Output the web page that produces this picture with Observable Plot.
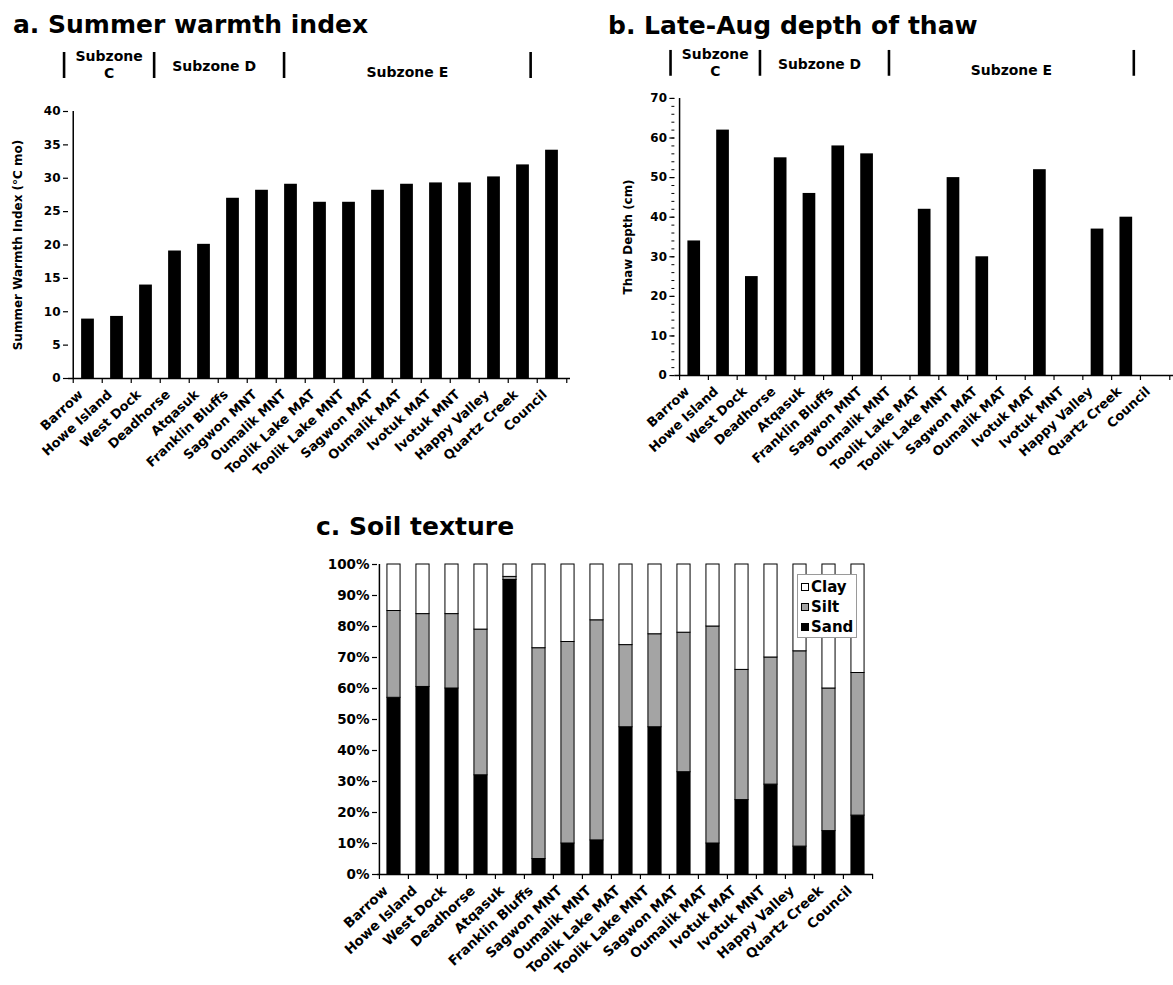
<!DOCTYPE html>
<html>
<head>
<meta charset="utf-8">
<script src="https://cdn.jsdelivr.net/npm/d3@7"></script>
<script src="https://cdn.jsdelivr.net/npm/@observablehq/plot@0.6"></script>
<style>
  html, body { margin: 0; padding: 0; background: #fff; overflow: hidden; }
  #fig { position: relative; width: 1173px; height: 985px; font-family: "DejaVu Sans", sans-serif; font-weight: bold; color: #000; }
  .panel { position: absolute; }
  .title { position: absolute; font-size: 25px; line-height: 25px; white-space: nowrap; }
  .legend { position: absolute; background: #fff; border: 1px solid #9a9a9a; box-sizing: border-box; padding: 2px 0 0 3px; }
  .legend .row { display: flex; align-items: center; height: 20px; font-size: 15px; }
  .legend .sw { width: 6px; height: 6px; border: 1px solid #000; margin-right: 2px; }
</style>
</head>
<body>
<div id="fig"></div>
<script>
// Sites along the Arctic transect, south-to-north zones C, D, E
const sites = ["Barrow", "Howe Island", "West Dock", "Deadhorse", "Atqasuk", "Franklin Bluffs",
  "Sagwon MNT", "Oumalik MNT", "Toolik Lake MAT", "Toolik Lake MNT", "Sagwon MAT", "Oumalik MAT",
  "Ivotuk MAT", "Ivotuk MNT", "Happy Valley", "Quartz Creek", "Council"];

// a. Summer warmth index (°C mo)
const warmth = [8.9, 9.3, 14.0, 19.1, 20.1, 27.0, 28.2, 29.1, 26.4, 26.4, 28.2, 29.1, 29.3, 29.3, 30.2, 32.0, 34.2];
// b. Late-August thaw depth (cm); null where not measured
const thaw = [34, 62, 25, 55, 46, 58, 56, null, 42, 50, 30, null, 52, null, 37, 40, null];
// c. Soil texture (% of sample)
const sand = [57, 60.5, 60, 32, 95, 5, 10, 11, 47.5, 47.5, 33, 10, 24, 29, 9, 14, 19];
const silt = [28, 23.5, 24, 47, 1, 68, 65, 71, 26.5, 30, 45, 70, 42, 41, 63, 46, 46];
const clay = [15, 16, 16, 21, 4, 27, 25, 18, 26, 22.5, 22, 20, 34, 30, 28, 40, 35];
const soilClasses = ["Clay", "Silt", "Sand"];
const soilColors = ["#ffffff", "#a4a4a4", "#000000"];

// Bioclimate subzones and their boundaries along the site axis (in site units)
const subzoneNames = ["Subzone\nC", "Subzone D", "Subzone E"];
const subzoneEdges = [-0.15, 2.9, 7.3, 15.65];

const warmthTicks = d3.range(0, 41, 5);
const thawTicks = d3.range(0, 71, 10);
const thawMinorTicks = d3.range(0, 71, 2);
const pctTicks = d3.range(0, 101, 10);

const FONT = '"DejaVu Sans", sans-serif';
const fig = document.getElementById("fig");

function place(el, left, top) {
  const d = document.createElement("div");
  d.className = "panel";
  d.style.left = left + "px";
  d.style.top = top + "px";
  d.append(el);
  fig.append(d);
  return d;
}

function title(text, left, top) {
  const t = document.createElement("div");
  t.className = "title";
  t.style.left = left + "px";
  t.style.top = top + "px";
  t.textContent = text;
  fig.append(t);
}

const BAR_W = 13.3;

// Subzone strip drawn over the same horizontal extent as the bar chart below it
function subzoneStrip({left, top, marginLeft, plotWidth, marginRight}) {
  const mids = subzoneNames.map((n, i) => ({name: n, x: (subzoneEdges[i] + subzoneEdges[i + 1]) / 2, i}));
  const shiftY = [-1, 0, 6];
  const shiftX = [0, -5, 0];
  const svg = Plot.plot({
    width: marginLeft + plotWidth + marginRight,
    height: 40,
    marginLeft, marginRight, marginTop: 7, marginBottom: 7,
    x: {type: "linear", domain: [0, sites.length], axis: null},
    y: {axis: null},
    style: {fontFamily: FONT, fontWeight: "bold", overflow: "visible", background: "transparent"},
    marks: [
      Plot.ruleX(subzoneEdges, {stroke: "black", strokeWidth: 2.6}),
      ...mids.map(m => Plot.text([m], {x: "x", text: "name", frameAnchor: "middle", dx: shiftX[m.i], dy: shiftY[m.i], fontSize: 14, lineHeight: 1.2, fill: "black"}))
    ]
  });
  place(svg, left, top);
}

function barPanel({values, ticks, minor, yMax, left, top, marginLeft, plotWidth, marginRight, marginTop, plotHeight, marginBottom, ylabel, labelDx}) {
  const step = plotWidth / sites.length;
  const inset = (step - BAR_W) / 2;
  const rows = sites.map((s, i) => ({site: s, v: values[i]})).filter(d => d.v != null);
  const tickUnits = 5 * yMax / plotHeight;
  const marks = [
    Plot.barY(rows, {x: "site", y: "v", fill: "black", insetLeft: inset, insetRight: inset}),
    Plot.ruleY([0], {stroke: "black", strokeWidth: 1.5}),
    Plot.ruleX([sites[0]], {dx: -step / 2, y1: 0, y2: yMax, stroke: "black", strokeWidth: 1.5}),
    Plot.ruleX(sites, {x: d => d, dx: -step / 2, y1: 0, y2: -tickUnits, stroke: "black", strokeWidth: 1.2}),
    Plot.ruleX([sites[sites.length - 1]], {dx: step / 2, y1: 0, y2: -tickUnits, stroke: "black", strokeWidth: 1.2}),
  ];
  if (minor) marks.push(Plot.axisY({ticks: minor, tickSize: 3, tickFormat: () => "", label: null, strokeWidth: 1}));
  marks.push(
    Plot.axisY({ticks, tickSize: 5, tickPadding: 3, fontSize: 12, fontWeight: "bold", label: null, strokeWidth: 1.2}),
    Plot.axisX({tickSize: 0, tickRotate: -43, tickPadding: 14, dx: -7, fontSize: 13, fontWeight: "bold", label: null}),
    Plot.text([ylabel], {frameAnchor: "left", textAnchor: "middle", rotate: -90, dx: labelDx, fontSize: 12, fontWeight: "bold", fill: "black"})
  );
  const svg = Plot.plot({
    width: marginLeft + plotWidth + marginRight,
    height: marginTop + plotHeight + marginBottom,
    marginLeft, marginRight, marginTop, marginBottom,
    x: {type: "band", domain: sites, padding: 0, axis: null},
    y: {domain: [0, yMax], axis: null},
    style: {fontFamily: FONT, fontWeight: "bold", overflow: "visible", background: "transparent", color: "black"},
    marks
  });
  place(svg, left, top);
}

// a. Summer warmth index
title("a. Summer warmth index", 13, 12);
subzoneStrip({left: 0, top: 45, marginLeft: 68, plotWidth: 502, marginRight: 10});
barPanel({
  values: warmth, ticks: warmthTicks, yMax: 40,
  left: 0, top: 100, marginLeft: 68, plotWidth: 502, marginRight: 10,
  marginTop: 11, plotHeight: 267, marginBottom: 110,
  ylabel: "Summer Warmth Index (°C mo)", labelDx: -50
});

// b. Late-Aug depth of thaw
title("b. Late-Aug depth of thaw", 608, 13);
subzoneStrip({left: 580, top: 43, marginLeft: 95, plotWidth: 502, marginRight: 0});
barPanel({
  values: thaw, ticks: thawTicks, minor: thawMinorTicks, yMax: 70,
  left: 580, top: 88, marginLeft: 95, plotWidth: 502, marginRight: 0,
  marginTop: 10, plotHeight: 279, marginBottom: 110,
  ylabel: "Thaw Depth (cm)", labelDx: -47
});

// c. Soil texture, stacked sand / silt / clay
title("c. Soil texture", 316, 514);
{
  const marginLeft = 87, plotWidth = 496, marginRight = 21, marginTop = 14, plotHeight = 310, marginBottom = 110;
  const step = plotWidth / sites.length;
  const inset = (step - BAR_W) / 2;
  const tickUnits = 5 * 100 / plotHeight;
  const soilRows = [];
  sites.forEach((s, i) => {
    soilRows.push({site: s, soil: "Sand", pct: sand[i]});
    soilRows.push({site: s, soil: "Silt", pct: silt[i]});
    soilRows.push({site: s, soil: "Clay", pct: clay[i]});
  });
  const svg = Plot.plot({
    width: marginLeft + plotWidth + marginRight,
    height: marginTop + plotHeight + marginBottom,
    marginLeft, marginRight, marginTop, marginBottom,
    x: {type: "band", domain: sites, padding: 0, axis: null},
    y: {domain: [0, 100], axis: null},
    color: {domain: soilClasses, range: soilColors},
    style: {fontFamily: FONT, fontWeight: "bold", overflow: "visible", background: "transparent", color: "black"},
    marks: [
      Plot.barY(soilRows, {x: "site", y: "pct", fill: "soil", order: ["Sand", "Silt", "Clay"], stroke: "black", strokeWidth: 1, insetLeft: inset, insetRight: inset}),
      Plot.ruleY([0], {stroke: "black", strokeWidth: 1.5}),
      Plot.ruleX([sites[0]], {dx: -step / 2, y1: 0, y2: 100, stroke: "black", strokeWidth: 1.5}),
      Plot.ruleX(sites, {x: d => d, dx: -step / 2, y1: 0, y2: -tickUnits, stroke: "black", strokeWidth: 1.2}),
      Plot.ruleX([sites[sites.length - 1]], {dx: step / 2, y1: 0, y2: -tickUnits, stroke: "black", strokeWidth: 1.2}),
      Plot.axisY({ticks: pctTicks, tickSize: 5, tickPadding: 3, tickFormat: d => d + "%", fontSize: 13.5, fontWeight: "bold", label: null, strokeWidth: 1.2}),
      Plot.axisX({tickSize: 0, tickRotate: -43, tickPadding: 14, dx: -8, fontSize: 13.5, fontWeight: "bold", label: null})
    ]
  });
  place(svg, 290, 550);

  // legend box
  const lg = document.createElement("div");
  lg.className = "legend";
  Object.assign(lg.style, {left: "797px", top: "574px", width: "60px", height: "64px"});
  soilClasses.forEach((name, i) => {
    const row = document.createElement("div");
    row.className = "row";
    const sw = document.createElement("span");
    sw.className = "sw";
    sw.style.background = soilColors[i];
    const tx = document.createElement("span");
    tx.textContent = name;
    row.append(sw, tx);
    lg.append(row);
  });
  fig.append(lg);
}
</script>
</body>
</html>
